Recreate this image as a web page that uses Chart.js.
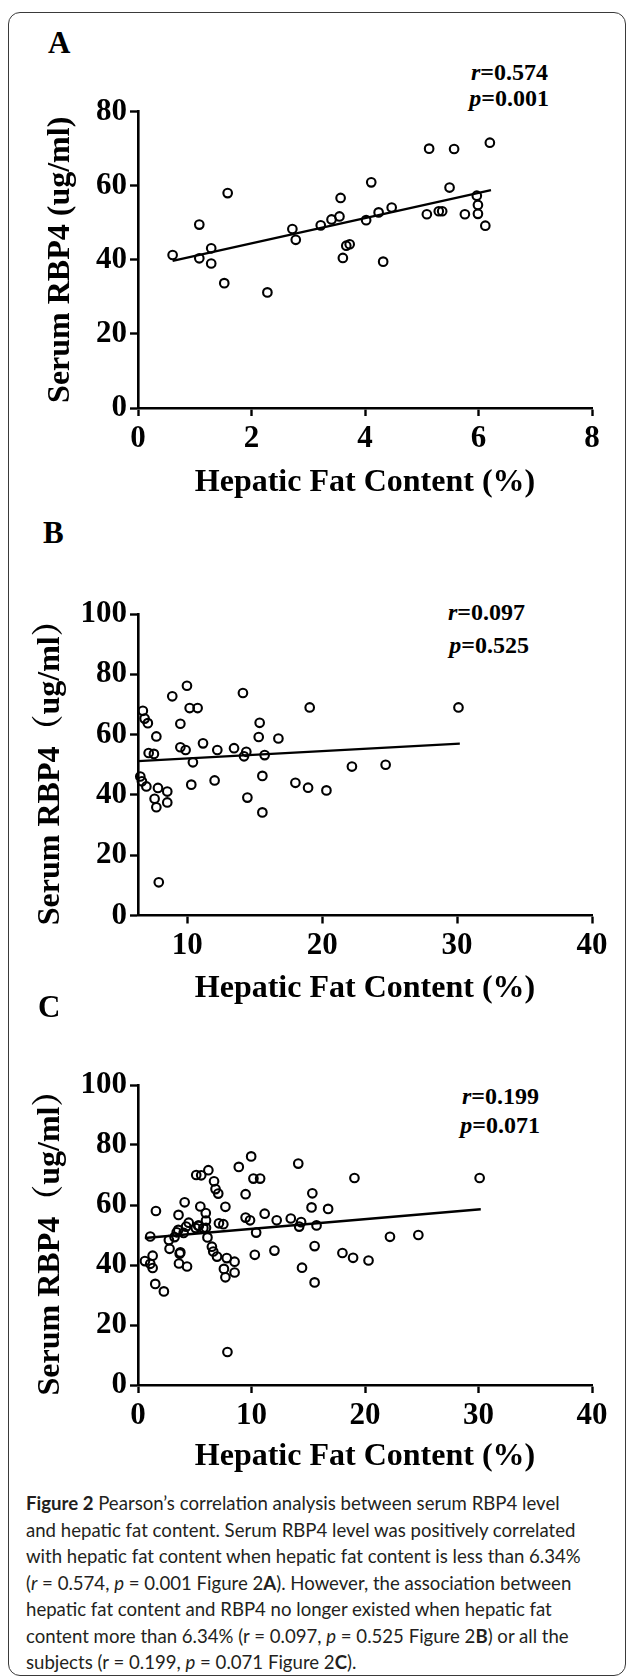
<!DOCTYPE html>
<html>
<head>
<meta charset="utf-8">
<script src="https://cdn.jsdelivr.net/npm/chart.js@4.4.1/dist/chart.umd.min.js"></script>
<style>
  html, body { margin: 0; padding: 0; background: #fff; }
  body { width: 629px; height: 1679px; position: relative; overflow: hidden; }
  .frame { position: absolute; left: 8px; top: 12px; width: 616px; height: 1662px;
           border: 1.5px solid #3a3a3a; border-radius: 12px; }
  canvas.panel { position: absolute; left: 0; }
  .letter { position: absolute; font: bold 31px "Liberation Serif", serif; line-height: 30px; color: #000; }
  .stat { position: absolute; font: bold 24px "Liberation Serif", serif; line-height: 24px;
          white-space: nowrap; color: #000; }
  .caption { position: absolute; left: 26px; top: 1490px; font: 18.6px Lato, "Open Sans", sans-serif;
             line-height: 26.5px; color: #231f20; white-space: nowrap; }
</style>
</head>
<body>
<div class="frame"></div>

<div class="letter" style="left:48px; top:28px;">A</div>
<div class="stat" style="right:81px; top:60px;"><i>r</i>=0.574</div>
<div class="stat" style="right:80px; top:86px;"><i>p</i>=0.001</div>
<canvas id="chartA" class="panel" width="629" height="420" style="top:90px;"></canvas>

<div class="letter" style="left:43px; top:518px;">B</div>
<div class="stat" style="right:104px; top:600px;"><i>r</i>=0.097</div>
<div class="stat" style="right:100px; top:633px;"><i>p</i>=0.525</div>
<canvas id="chartB" class="panel" width="629" height="450" style="top:560px;"></canvas>

<div class="letter" style="left:38px; top:992px;">C</div>
<div class="stat" style="right:90px; top:1084px;"><i>r</i>=0.199</div>
<div class="stat" style="right:89px; top:1113px;"><i>p</i>=0.071</div>
<canvas id="chartC" class="panel" width="629" height="450" style="top:1030px;"></canvas>

<div class="caption">
  <div><b>Figure 2</b> Pearson’s correlation analysis between serum RBP4 level</div>
  <div>and hepatic fat content. Serum RBP4 level was positively correlated</div>
  <div>with hepatic fat content when hepatic fat content is less than 6.34%</div>
  <div>(<i>r</i> = 0.574, <i>p</i> = 0.001 Figure 2<b>A</b>). However, the association between</div>
  <div>hepatic fat content and RBP4 no longer existed when hepatic fat</div>
  <div>content more than 6.34% (r = 0.097, <i>p</i> = 0.525 Figure 2<b>B</b>) or all the</div>
  <div>subjects (r = 0.199, <i>p</i> = 0.071 Figure 2<b>C</b>).</div>
</div>

<script>
// Hepatic fat content < 6.34% (panel A)
const fatA = [0.61, 1.08, 1.08, 1.29, 1.29, 1.52, 1.58, 2.28, 2.72, 2.78, 3.22, 3.41,
              3.55, 3.57, 3.61, 3.67, 3.73, 4.02, 4.11, 4.24, 4.32, 4.47, 5.09, 5.13,
              5.30, 5.36, 5.49, 5.57, 5.76, 5.97, 5.99, 5.99, 6.12, 6.20];
const rbpA = [41.3, 49.5, 40.4, 43.1, 39.0, 33.7, 58.0, 31.2, 48.3, 45.4, 49.3, 50.9,
              51.7, 56.7, 40.5, 43.8, 44.2, 50.7, 60.9, 52.8, 39.5, 54.1, 52.3, 70.0,
              53.1, 53.1, 59.5, 69.9, 52.3, 57.3, 54.8, 52.4, 49.2, 71.6];

// Hepatic fat content > 6.34% (panel B)
const fatB = [6.51, 6.63, 6.70, 6.83, 6.96, 7.07, 7.13, 7.52, 7.57, 7.70, 7.70, 7.82,
              7.88, 8.51, 8.51, 8.88, 9.48, 9.48, 9.87, 9.97, 10.17, 10.29, 10.41, 10.76,
              11.16, 12.02, 12.22, 13.46, 14.12, 14.20, 14.37, 14.45, 15.29, 15.36, 15.56,
              15.56, 15.73, 16.75, 18.01, 18.95, 19.07, 20.31, 22.2, 24.7, 30.1];
const rbpB = [46.1, 44.5, 67.9, 65.3, 42.8, 63.8, 53.9, 53.6, 38.7, 59.4, 35.9, 42.3,
              11.0, 41.1, 37.5, 72.7, 63.6, 55.8, 54.9, 76.2, 68.8, 43.4, 50.8, 68.8,
              57.1, 44.8, 54.9, 55.5, 73.8, 52.8, 54.3, 39.1, 59.2, 63.9, 46.3,
              34.2, 53.2, 58.7, 44.0, 42.4, 69.0, 41.5, 49.4, 50.0, 69.0];

// All subjects (panel C) = both groups
const fatC = fatA.concat(fatB);
const rbpC = rbpA.concat(rbpB);

// Fitted lines (end points)
const fitA_x = [0.61, 6.22], fitA_y = [39.7, 58.8];
const fitB_x = [6.34, 30.2], fitB_y = [51.2, 57.0];
const fitC_x = [0.6, 30.2],  fitC_y = [49.0, 58.6];

// Axis ticks
const ticksA_x = [0, 2, 4, 6, 8],       ticksA_y = [0, 20, 40, 60, 80];
const ticksB_x = [10, 20, 30, 40],      ticksB_y = [0, 20, 40, 60, 80, 100];
const ticksC_x = [0, 10, 20, 30, 40],   ticksC_y = [0, 20, 40, 60, 80, 100];

const xTitle = 'Hepatic Fat Content (%)';
const yTitleA = 'Serum RBP4 (ug/ml)';
const yTitleBC = 'Serum RBP4\uFF08ug/ml\uFF09';

const serif = '"Liberation Serif", "Times New Roman", "Noto Serif CJK SC", "Noto Sans CJK SC", serif';

function toPoints(xs, ys) {
    return xs.map((x, i) => ({ x: x, y: ys[i] }));
}

function setTicks(values) {
    return function(scale) {
        scale.ticks = values.map(v => ({ value: v }));
    };
}

function makeScatter(id, o) {
    const ctx = document.getElementById(id).getContext('2d');
    return new Chart(ctx, {
        type: 'scatter',
        data: {
            datasets: [{
                data: toPoints(o.xs, o.ys),
                pointStyle: 'circle',
                pointRadius: 4.3,
                borderWidth: 2.1,
                borderColor: '#000',
                backgroundColor: 'rgba(0,0,0,0)',
                clip: false
            }, {
                data: toPoints(o.fitX, o.fitY),
                showLine: true,
                pointRadius: 0,
                borderWidth: 2.4,
                borderColor: '#000',
                clip: false
            }]
        },
        options: {
            responsive: false,
            animation: false,
            devicePixelRatio: 1,
            layout: { padding: { top: o.padTop, right: 37, bottom: 0, left: 0 } },
            plugins: { legend: { display: false }, tooltip: { enabled: false } },
            scales: {
                x: {
                    type: 'linear',
                    min: o.xMin, max: o.xMax,
                    afterBuildTicks: setTicks(o.xTicks),
                    afterFit: function(s) { s.height = o.xHeight; },
                    ticks: { color: '#000', font: { family: serif, size: 31, weight: 'bold' },
                             padding: 4, maxRotation: 0, minRotation: 0, autoSkip: false },
                    grid: { drawOnChartArea: false, tickLength: 8, tickWidth: 2.4, tickColor: '#000' },
                    border: { display: true, color: '#000', width: 2.6 },
                    title: { display: true, text: xTitle, color: '#000',
                             font: { family: serif, size: 32, weight: 'bold' },
                             padding: { top: 0, bottom: o.xTitlePad } }
                },
                y: {
                    type: 'linear',
                    min: 0, max: o.yMax,
                    afterBuildTicks: setTicks(o.yTicks),
                    afterFit: function(s) { s.width = 138; },
                    ticks: { color: '#000', font: { family: serif, size: 31, weight: 'bold' },
                             padding: 3, autoSkip: false },
                    grid: { drawOnChartArea: false, tickLength: 8, tickWidth: 2.4, tickColor: '#000' },
                    border: { display: true, color: '#000', width: 2.6 },
                    title: { display: true, text: o.yTitle, color: '#000',
                             font: { family: serif, size: 32, weight: 'bold' },
                             padding: { top: o.yTitlePad, bottom: 0 } }
                }
            }
        }
    });
}

makeScatter('chartA', {
    xs: fatA, ys: rbpA, fitX: fitA_x, fitY: fitA_y,
    xMin: 0, xMax: 8, yMax: 80, xTicks: ticksA_x, yTicks: ticksA_y,
    yTitle: yTitleA, padTop: 18, xHeight: 102, xTitlePad: 8, yTitlePad: 42
});

makeScatter('chartB', {
    xs: fatB, ys: rbpB, fitX: fitB_x, fitY: fitB_y,
    xMin: 6.34, xMax: 40, yMax: 100, xTicks: ticksB_x, yTicks: ticksB_y,
    yTitle: yTitleBC, padTop: 54, xHeight: 94.5, xTitlePad: 2, yTitlePad: 32
});

makeScatter('chartC', {
    xs: fatC, ys: rbpC, fitX: fitC_x, fitY: fitC_y,
    xMin: 0, xMax: 40, yMax: 100, xTicks: ticksC_x, yTicks: ticksC_y,
    yTitle: yTitleBC, padTop: 55, xHeight: 95, xTitlePad: 4, yTitlePad: 32
});
</script>
</body>
</html>
